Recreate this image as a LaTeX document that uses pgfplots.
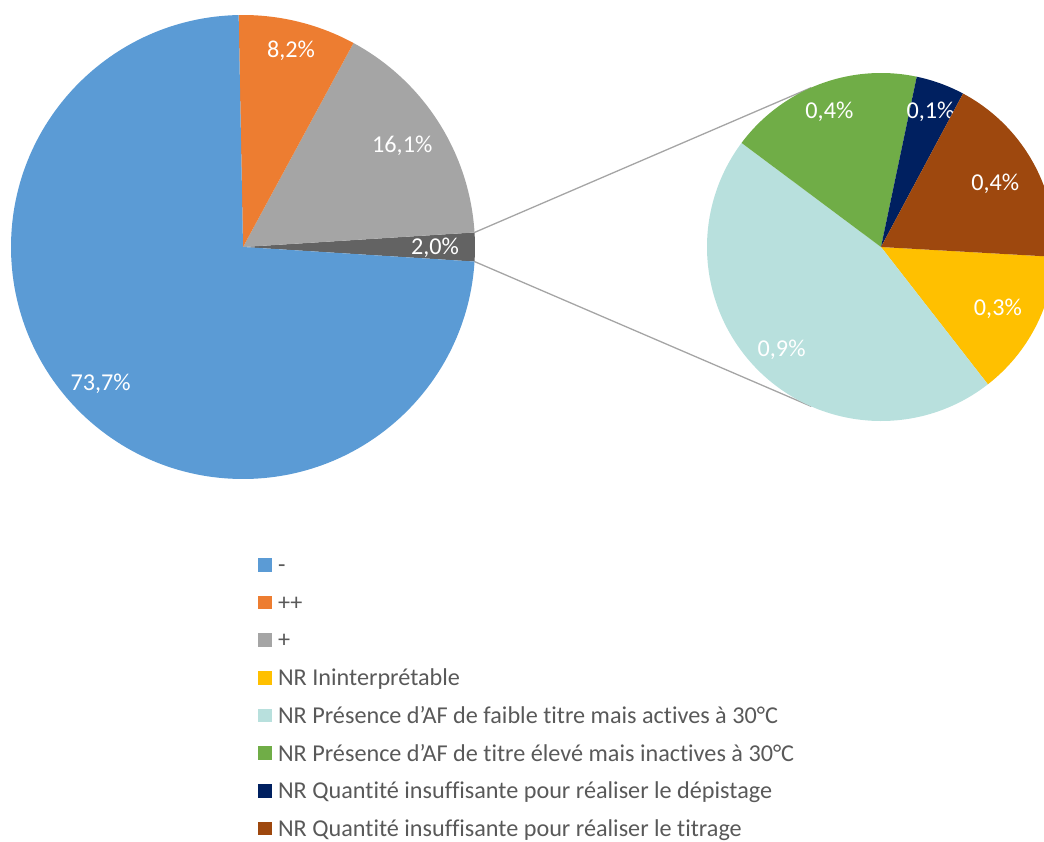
\documentclass[border=0pt]{standalone}
\usepackage{pgfplots}
\pgfplotsset{compat=1.18}
\usetikzlibrary{calc}
\usepackage{fontspec}
\setmainfont{Carlito}[Ligatures={NoCommon}]

\definecolor{cBlue}{HTML}{5B9BD5}
\definecolor{cOrange}{HTML}{ED7D31}
\definecolor{cGray}{HTML}{A5A5A5}
\definecolor{cDark}{HTML}{636363}
\definecolor{cYellow}{HTML}{FFC000}
\definecolor{cTeal}{HTML}{B8E0DD}
\definecolor{cGreen}{HTML}{70AD47}
\definecolor{cNavy}{HTML}{002060}
\definecolor{cBrown}{HTML}{9E480E}
\definecolor{cText}{HTML}{595959}

% ---- data: primary pie (%)
\def\vMinus{73.7}
\def\vPlusPlus{8.2}
\def\vPlus{16.1}
\def\vNR{2.0}
% ---- data: secondary pie (% of total, the NR breakdown)
\def\vIni{0.27}
\def\vFaible{0.91}
\def\vEleve{0.36}
\def\vDep{0.09}
\def\vTit{0.36}

\pgfkeys{/pgf/number format/.cd, fixed, fixed zerofill, precision=1, use comma, assume math mode=true}

\pgfplotsset{squarelegend/.style={legend image code/.code={\fill[#1, draw=none] (0bp,1bp) rectangle (13.6bp,14.6bp);}}}

% slice: cx, cy, R, a1, a2, colour, value, label radius
\newcommand\slice[8]{%
  \fill[#6] (axis cs:#1,#2) -- ++(#4:#3) arc[start angle=#4, end angle=#5, radius=#3] -- cycle;
  \path (axis cs:#1,#2) ++({(#4+#5)/2}:#8) node[lab] {\pgfmathprintnumber{#7}\%};
}

\begin{document}
\begin{tikzpicture}[
  lab/.style={text=white, font=\fontsize{24.2bp}{28bp}\selectfont, inner sep=0pt, text height=15.3bp, text depth=0pt, anchor=center}]
\useasboundingbox (0,0) rectangle (1044bp,842bp);

% primary pie angles (NR slice centred on 0 deg)
\pgfmathsetmacro\aA{\vNR*1.8}
\pgfmathsetmacro\aB{\aA+\vPlus*3.6}
\pgfmathsetmacro\aC{\aB+\vPlusPlus*3.6}
\pgfmathsetmacro\aD{\aC+\vMinus*3.6}
% secondary pie angles (clockwise)
\pgfmathsetmacro\S{\vIni+\vFaible+\vEleve+\vDep+\vTit}
\def\bZ{-3.26}
\pgfmathsetmacro\bA{\bZ-\vIni/\S*360}
\pgfmathsetmacro\bB{\bA-\vFaible/\S*360}
\pgfmathsetmacro\bC{\bB-\vEleve/\S*360}
\pgfmathsetmacro\bD{\bC-\vDep/\S*360}
\pgfmathsetmacro\bE{\bD-\vTit/\S*360}

\begin{axis}[
  x=1bp, y=1bp, xmin=0, xmax=1044, ymin=0, ymax=842,
  hide axis, clip=false,
  squarelegend,
  legend style={
    at={(axis cs:258,287.5)}, anchor=north west,
    draw=none, fill=none, inner sep=0pt, outer sep=0pt,
    font=\fontsize{24.2bp}{28bp}\selectfont, text=cText,
    row sep=13.7bp,
    cells={anchor=base west},
    nodes={inner sep=0pt, outer sep=0pt, text height=18bp, text depth=6bp},
    /tikz/every odd column/.append style={column sep=6.5bp},
  },
]
\addlegendimage{fill=cBlue}
\addlegendentry{-}
\addlegendimage{fill=cOrange}
\addlegendentry{++}
\addlegendimage{fill=cGray}
\addlegendentry{+}
\addlegendimage{fill=cYellow}
\addlegendentry{NR Ininterprétable}
\addlegendimage{fill=cTeal}
\addlegendentry{NR Présence d’AF de faible titre mais actives à 30°C}
\addlegendimage{fill=cGreen}
\addlegendentry{NR Présence d’AF de titre élevé mais inactives à 30°C}
\addlegendimage{fill=cNavy}
\addlegendentry{NR Quantité insuffisante pour réaliser le dépistage}
\addlegendimage{fill=cBrown}
\addlegendentry{NR Quantité insuffisante pour réaliser le titrage}

% connector lines
\draw[cGray, line width=1.3bp] (axis cs:243,595) ++(\aA:232bp) -- ($(axis cs:881,595)+(113.6:174bp)$);
\draw[cGray, line width=1.3bp] (axis cs:243,595) ++(-\aA:232bp) -- ($(axis cs:881,595)+(-113.6:174bp)$);

% primary pie
\slice{243}{595}{232bp}{-\aA}{\aA}{cDark}{\vNR}{192bp}
\slice{243}{595}{232bp}{\aA}{\aB}{cGray}{\vPlus}{189bp}
\slice{243}{595}{232bp}{\aB}{\aC}{cOrange}{\vPlusPlus}{203bp}
\slice{243}{595}{232bp}{\aC}{\aD}{cBlue}{\vMinus}{197bp}

% secondary pie
\slice{881}{595}{174bp}{\bZ}{\bA}{cYellow}{\vIni}{132bp}
\slice{881}{595}{174bp}{\bA}{\bB}{cTeal}{\vFaible}{142bp}
\slice{881}{595}{174bp}{\bB}{\bC}{cGreen}{\vEleve}{146bp}
\slice{881}{595}{174bp}{\bC}{\bD}{cNavy}{\vDep}{145bp}
\slice{881}{595}{174bp}{\bD}{\bE}{cBrown}{\vTit}{131bp}
\end{axis}
\end{tikzpicture}
\end{document}
